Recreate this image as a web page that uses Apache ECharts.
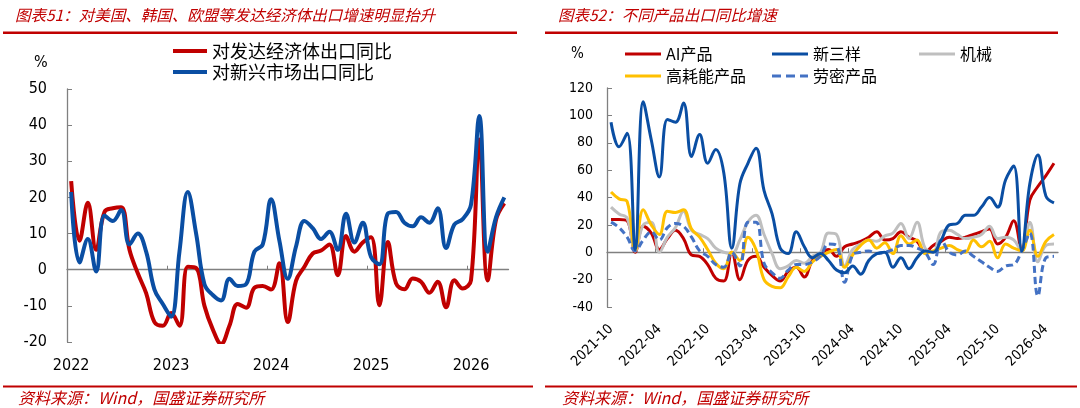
<!DOCTYPE html>
<html>
<head>
<meta charset="utf-8">
<script src="https://cdn.jsdelivr.net/npm/echarts@6/dist/echarts.min.js"></script>
<style>
  html, body { margin: 0; padding: 0; background: #fff; }
  #chart { width: 1080px; height: 408px; }
</style>
</head>
<body>
<div id="chart"></div>
<script>
// 图表51：月度，2022-01 ~ 2026-05
const months51 = [
  '2022-01','2022-02','2022-03','2022-04','2022-05','2022-06','2022-07','2022-08','2022-09','2022-10','2022-11','2022-12',
  '2023-01','2023-02','2023-03','2023-04','2023-05','2023-06','2023-07','2023-08','2023-09','2023-10','2023-11','2023-12',
  '2024-01','2024-02','2024-03','2024-04','2024-05','2024-06','2024-07','2024-08','2024-09','2024-10','2024-11','2024-12',
  '2025-01','2025-02','2025-03','2025-04','2025-05','2025-06','2025-07','2025-08','2025-09','2025-10','2025-11','2025-12',
  '2026-01','2026-02','2026-03','2026-04','2026-05'
];
// 对发达经济体出口同比
const developedYoY = [
  24.5, 8, 18.5, 5.5, 16, 17, 17.3, 5.5, -1, -6.5, -14.5, -15.5,
  -12, -15.5, 0.8, 0.5, -10, -16.5, -20.5, -15.5, -9.5, -10.5, -5, -4.5,
  -5.5, 1.8, -14.5, -3, 0.8, 4.5, 5.3, 7, -1.5, 9.3, 5, 7.5,
  9, -9.8, 7.7, -3.8, -5.4, -2.4, -3.3, -6.4, -3.3, -10.4, -2.9, -5.2,
  -2.9, 36, -3, 13.8, 18.4
];
// 对新兴市场出口同比
const emergingYoY = [
  21.5, 2, 8.5, -0.5, 15, 13.5, 16.5, 7, 10, 5, -5.5, -9.5,
  -13, 5, 21.5, 10, -4, -7, -8.5, -2.5, -4.5, -4, 5, 7,
  19.5, 8, -2.5, 6.5, 13.5, 11.5, 8.5, 10.5, 5.5, 15.5, 7.5, 13,
  3.5, 1.5, 15.5, 16, 13, 12, 14.5, 13, 17, 6, 12.5, 14,
  18, 42.5, 5, 14.5, 20
];

// 图表52：月度，2021-10 ~ 2026-05
const months52 = [
  '2021-10','2021-11','2021-12',
  '2022-01','2022-02','2022-03','2022-04','2022-05','2022-06','2022-07','2022-08','2022-09','2022-10','2022-11','2022-12',
  '2023-01','2023-02','2023-03','2023-04','2023-05','2023-06','2023-07','2023-08','2023-09','2023-10','2023-11','2023-12',
  '2024-01','2024-02','2024-03','2024-04','2024-05','2024-06','2024-07','2024-08','2024-09','2024-10','2024-11','2024-12',
  '2025-01','2025-02','2025-03','2025-04','2025-05','2025-06','2025-07','2025-08','2025-09','2025-10','2025-11','2025-12',
  '2026-01','2026-02','2026-03','2026-04','2026-05'
];
const aiYoY = [
  24, 24, 23,
  0, 19, 14, 2, 10, 16, 10, -2, -3, -9, -19, -21,
  0, -20, -6, -3, -11, -17, -21, -14, -11, -18, -6, -1,
  2, -3, 4, 6, 8, 11, 15, 9, 10, 15, 11, 8,
  0, 5, 8, 11, 10, 11, 13, 15, 17, 6, 11, 23,
  1, 38, 48, 56, 65
];
const newThreeYoY = [
  95, 77, 87,
  2, 110, 82, 55, 97, 95, 109, 70, 86, 65, 75, 58,
  3, 50, 65, 76, 45, 28, 3, -1, 15, 4, -4, -1,
  -6, -13, -15, -10, -16, -6, -1, 0, -11, -4, -12, -4,
  1, 0, 9, 20, 21, 27, 27, 33, 40, 33, 53, 63,
  1, 50, 71, 41, 36
];
const machineryYoY = [
  33, 28, 25,
  1, 20, 22, 0, 11, 18, 30, 16, 13, 10, 3, 0,
  -1, 9, 22, 27, 13, -1, -12, -10, -6, -8, -3, 0,
  14, 13, -10, 2, 6, 9, 8, 12, 14, 21, 10, 22,
  3, 0, 15, 16, 13, 10, 11, 13, 19, 10, 11, 9,
  1, 22, -7, 5, 6
];
const energyYoY = [
  44, 39, 37,
  1, 31, 20, 13, 30, 29, 31, 17, 11, 2, -8, -12,
  0, -6, 11, 2, -20, -25, -26, -18, -11, -14, -7, -3,
  0, 2, -11, -2, 5, 9, 3, 7, -1, 12, 6, 9,
  -1, 1, 3, 5, 2, 0, 9, 4, 8, -4, 6, 3,
  1, 16, -3, 8, 13
];
const laborYoY = [
  22, 18, 11,
  1, 9, 15, 9, 18, 21, 19, 11, 1, -3, -9, -11,
  0, -10, 22, 22, -8, -15, -19, -13, -9, -9, -7, -3,
  6, 5, -22, -2, 0, 1, -1, 0, 2, 5, 5, 3,
  0, -9, 9, 0, -2, 1, -3, -7, -11, -14, -10, -9,
  1, 14, -32, -4, -3
];

// 刻度轴：比月份多一个边界
const ticks51 = months51.concat(['2026-06']);
const ticks52 = months52.concat(['2026-06']);

const numFont = "'DejaVu Sans Condensed', 'Liberation Sans', sans-serif";
const cnFont = "'Noto Sans CJK SC', sans-serif";
const RED = '#C00000';
const BLUE = '#0A4EA3';
const GRAY = '#BFBFBF';
const YELLOW = '#FFC000';
const LBLUE = '#4472C4';
const AXIS = '#808080';

const chart = echarts.init(document.getElementById('chart'), null, { renderer: 'canvas' });

// 每个图例单独摆放
function legendItem(name, left, top, size, w, h, icon) {
  return {
    data: [name],
    left: left,
    top: top,
    icon: icon || 'rect',
    itemWidth: w,
    itemHeight: h,
    selectedMode: false,
    padding: 0,
    textStyle: { fontFamily: cnFont, fontSize: size, color: '#000' }
  };
}
const dashIcon = 'path://M0,0H9V3H0Z M14,0H23V3H14Z M28,0H36V3H28Z';

const option = {
  animation: false,
  backgroundColor: '#fff',
  grid: [
    { left: 67, top: 89, width: 441.5, height: 253, outerBoundsMode: 'none' },
    { left: 607, top: 88, width: 451, height: 219, outerBoundsMode: 'none' }
  ],
  legend: [
    legendItem('对发达经济体出口同比', 173, 42, 18, 34, 4),
    legendItem('对新兴市场出口同比', 173, 63, 18, 34, 4),
    legendItem('AI产品', 625, 46, 16, 36, 3),
    legendItem('新三样', 772, 46, 16, 36, 3),
    legendItem('机械', 919, 46, 16, 36, 3),
    legendItem('高耗能产品', 625, 68, 16, 36, 3),
    legendItem('劳密产品', 772, 68, 16, 36, 3, dashIcon)
  ],
  xAxis: [
    {
      gridIndex: 0, type: 'category', data: months51, boundaryGap: true, position: 'bottom',
      axisLine: { show: false, onZero: false }, axisTick: { show: false }, splitLine: { show: false },
      axisLabel: {
        interval: function (i) { return i % 12 === 0; },
        formatter: function (v) { return v.slice(0, 4); },
        margin: 16, fontSize: 16, color: '#000', fontFamily: numFont
      }
    },
    {
      gridIndex: 0, type: 'category', data: ticks51, boundaryGap: false, position: 'top',
      axisLine: { show: true, onZero: true, lineStyle: { color: AXIS, width: 1.3 } },
      axisTick: { show: true, interval: function (i) { return i % 12 === 0; }, length: 4, lineStyle: { color: AXIS } },
      axisLabel: { show: false }, splitLine: { show: false }
    },
    {
      gridIndex: 1, type: 'category', data: months52, boundaryGap: true, position: 'bottom',
      axisLine: { show: false, onZero: false }, axisTick: { show: false }, splitLine: { show: false },
      axisLabel: {
        interval: function (i) { return i % 6 === 0; },
        rotate: 45, margin: 20, fontSize: 14, color: '#000', fontFamily: numFont
      }
    },
    {
      gridIndex: 1, type: 'category', data: ticks52, boundaryGap: false, position: 'top',
      axisLine: { show: true, onZero: true, lineStyle: { color: AXIS, width: 1.3 } },
      axisTick: { show: true, interval: function (i) { return i % 6 === 0; }, length: 4, lineStyle: { color: AXIS } },
      axisLabel: { show: false }, splitLine: { show: false }
    }
  ],
  yAxis: [
    {
      gridIndex: 0, type: 'value', min: -20, max: 50, interval: 10,
      axisLine: { show: true, onZero: false, lineStyle: { color: AXIS, width: 1.3 } },
      axisTick: { show: true, inside: true, length: 5, lineStyle: { color: AXIS } },
      axisLabel: { margin: 20, fontSize: 16, color: '#000', fontFamily: numFont },
      splitLine: { show: false }
    },
    {
      gridIndex: 1, type: 'value', min: -40, max: 120, interval: 20,
      axisLine: { show: true, onZero: false, lineStyle: { color: AXIS, width: 1.3 } },
      axisTick: { show: true, inside: true, length: 5, lineStyle: { color: AXIS } },
      axisLabel: { margin: 14, fontSize: 14, color: '#000', fontFamily: numFont },
      splitLine: { show: false }
    }
  ],
  series: [
    {
      name: '对发达经济体出口同比', type: 'line', xAxisIndex: 0, yAxisIndex: 0, data: developedYoY,
      smooth: 0.4, symbol: 'none', color: RED, lineStyle: { color: RED, width: 4 }
    },
    {
      name: '对新兴市场出口同比', type: 'line', xAxisIndex: 0, yAxisIndex: 0, data: emergingYoY,
      smooth: 0.4, symbol: 'none', color: BLUE, lineStyle: { color: BLUE, width: 4 }
    },
    {
      name: 'AI产品', type: 'line', xAxisIndex: 2, yAxisIndex: 1, data: aiYoY,
      smooth: 0.4, symbol: 'none', color: RED, lineStyle: { color: RED, width: 3 }
    },
    {
      name: '机械', type: 'line', xAxisIndex: 2, yAxisIndex: 1, data: machineryYoY,
      smooth: 0.4, symbol: 'none', color: GRAY, lineStyle: { color: GRAY, width: 3 }
    },
    {
      name: '高耗能产品', type: 'line', xAxisIndex: 2, yAxisIndex: 1, data: energyYoY,
      smooth: 0.4, symbol: 'none', color: YELLOW, lineStyle: { color: YELLOW, width: 3 }
    },
    {
      name: '劳密产品', type: 'line', xAxisIndex: 2, yAxisIndex: 1, data: laborYoY,
      smooth: 0.4, symbol: 'none', color: LBLUE, lineStyle: { color: LBLUE, width: 3, type: [7, 4] }
    },
    {
      name: '新三样', type: 'line', xAxisIndex: 2, yAxisIndex: 1, data: newThreeYoY,
      smooth: 0.4, symbol: 'none', color: BLUE, lineStyle: { color: BLUE, width: 3 }
    }
  ],
  graphic: [
    // 标题
    { type: 'text', left: 15, top: 7, style: { text: '图表51：对美国、韩国、欧盟等发达经济体出口增速明显抬升', fill: RED, font: 'italic 15.5px ' + cnFont } },
    { type: 'text', left: 558, top: 7, style: { text: '图表52：不同产品出口同比增速', fill: RED, font: 'italic 15.5px ' + cnFont } },
    { type: 'rect', shape: { x: 3, y: 31.5, width: 514, height: 2.5 }, style: { fill: RED } },
    { type: 'rect', shape: { x: 545, y: 31.5, width: 513, height: 2.5 }, style: { fill: RED } },
    // 单位
    { type: 'text', left: 34, top: 55, style: { text: '%', fill: '#000', font: '16px ' + numFont } },
    { type: 'text', left: 571, top: 47, style: { text: '%', fill: '#000', font: '15px ' + numFont } },
    // 资料来源
    { type: 'rect', shape: { x: 3, y: 385.5, width: 530, height: 2 }, style: { fill: RED } },
    { type: 'rect', shape: { x: 545, y: 385.5, width: 532, height: 2 }, style: { fill: RED } },
    { type: 'text', left: 18, top: 390, style: { text: '资料来源：Wind，国盛证券研究所', fill: RED, font: 'italic 16px ' + cnFont } },
    { type: 'text', left: 562, top: 390, style: { text: '资料来源：Wind，国盛证券研究所', fill: RED, font: 'italic 16px ' + cnFont } }
  ]
};

chart.setOption(option);
</script>
</body>
</html>
